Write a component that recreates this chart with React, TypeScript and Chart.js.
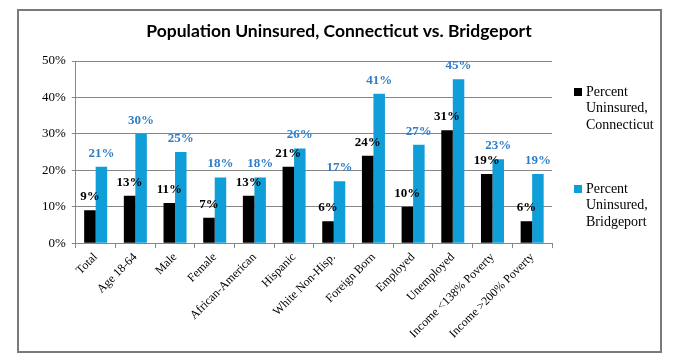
import React, { useEffect, useRef } from "react";
import { Chart, registerables } from "chart.js";

Chart.register(...registerables);

const categories = [
  "Total",
  "Age 18-64",
  "Male",
  "Female",
  "African-American",
  "Hispanic",
  "White Non-Hisp.",
  "Foreign Born",
  "Employed",
  "Unemployed",
  "Income <138% Poverty",
  "Income >200% Poverty",
];
const connecticut = [9, 13, 11, 7, 13, 21, 6, 24, 10, 31, 19, 6];
const bridgeport = [21, 30, 25, 18, 18, 26, 17, 41, 27, 45, 23, 19];
const seriesLabels = [
  ["Percent", "Uninsured,", "Connecticut"],
  ["Percent", "Uninsured,", "Bridgeport"],
];
const yTicks = [0, 10, 20, 30, 40, 50];
const titleText = "Population Uninsured, Connecticut vs. Bridgeport";

const BLACK = "#000000";
const BLUE = "#0F9ED8";
const BLUE_LABEL = "#2F7EC6";
const GRID = "#868686";
const SERIF = "'Liberation Serif', 'DejaVu Serif', serif";

export default function App() {
  const ref = useRef<HTMLCanvasElement | null>(null);

  useEffect(() => {
    const canvas = ref.current;
    if (!canvas) return;

    const titlePlugin = {
      id: "customTitle",
      afterDraw(chart: any) {
        const ctx = chart.ctx;
        ctx.save();
        ctx.font = "bold 17.5px Lato, 'Open Sans', sans-serif";
        ctx.fillStyle = "#000";
        ctx.textAlign = "center";
        ctx.textBaseline = "middle";
        ctx.fillText(titleText, 339, 31);
        ctx.restore();
      },
    };

    const valueLabels = {
      id: "valueLabels",
      afterDatasetsDraw(chart: any) {
        const ctx = chart.ctx;
        ctx.save();
        ctx.font = "bold 13px " + SERIF;
        ctx.textAlign = "center";
        ctx.textBaseline = "bottom";
        chart.data.datasets.forEach((ds: any, di: number) => {
          const meta = chart.getDatasetMeta(di);
          ctx.fillStyle = di === 0 ? BLACK : BLUE_LABEL;
          meta.data.forEach((el: any, i: number) => {
            ctx.fillText(ds.data[i] + "%", el.x, el.y - 7);
          });
        });
        ctx.restore();
      },
    };

    const legendPlugin = {
      id: "customLegend",
      afterDraw(chart: any) {
        const ctx = chart.ctx;
        ctx.save();
        ctx.font = "14px " + SERIF;
        ctx.textAlign = "left";
        ctx.textBaseline = "middle";
        const starts = [92, 189];
        chart.data.datasets.forEach((ds: any, di: number) => {
          const y0 = starts[di];
          ctx.fillStyle = ds.backgroundColor;
          ctx.fillRect(574, y0 - 4, 8, 8);
          ctx.fillStyle = "#000";
          ds.label.forEach((line: string, li: number) => {
            ctx.fillText(line, 586, y0 + li * 16.5);
          });
        });
        ctx.restore();
      },
    };

    const chart = new Chart(canvas, {
      type: "bar",
      data: {
        labels: categories,
        datasets: [
          {
            label: seriesLabels[0] as any,
            data: connecticut,
            backgroundColor: BLACK,
            categoryPercentage: 0.58,
            barPercentage: 1,
          },
          {
            label: seriesLabels[1] as any,
            data: bridgeport,
            backgroundColor: BLUE,
            categoryPercentage: 0.58,
            barPercentage: 1,
          },
        ],
      },
      options: {
        responsive: false,
        animation: false,
        layout: { padding: { left: 36, right: 127, top: 61, bottom: 21 } },
        plugins: {
          legend: { display: false },
          title: { display: false },
          tooltip: { enabled: false },
        },
        scales: {
          x: {
            grid: {
              display: true,
              drawOnChartArea: false,
              drawTicks: true,
              tickLength: 5,
              color: GRID,
            },
            border: { display: true, color: GRID },
            ticks: {
              color: "#000",
              font: { family: SERIF, size: 12 },
              minRotation: 45,
              maxRotation: 45,
              autoSkip: false,
              padding: 2,
            },
          },
          y: {
            min: 0,
            max: 50,
            afterBuildTicks(scale: any) {
              scale.ticks = yTicks.map((v) => ({ value: v }));
            },
            grid: { color: GRID, tickLength: 4, lineWidth: 1 },
            border: { display: true, color: GRID },
            ticks: {
              color: "#000",
              font: { family: SERIF, size: 13 },
              padding: 6,
              callback: (v: any) => v + "%",
            },
          },
        },
      },
      plugins: [titlePlugin, valueLabels, legendPlugin],
    });

    return () => chart.destroy();
  }, []);

  return (
    <div
      style={{
        position: "fixed",
        left: 0,
        top: 0,
        width: 679,
        height: 364,
        background: "#fff",
      }}
    >
      <div
        style={{
          position: "absolute",
          left: 17,
          top: 9,
          width: 641,
          height: 340,
          border: "2px solid #7a7a7a",
        }}
      />
      <canvas
        ref={ref}
        width={679}
        height={364}
        style={{ position: "absolute", left: 0, top: 0 }}
      />
    </div>
  );
}
